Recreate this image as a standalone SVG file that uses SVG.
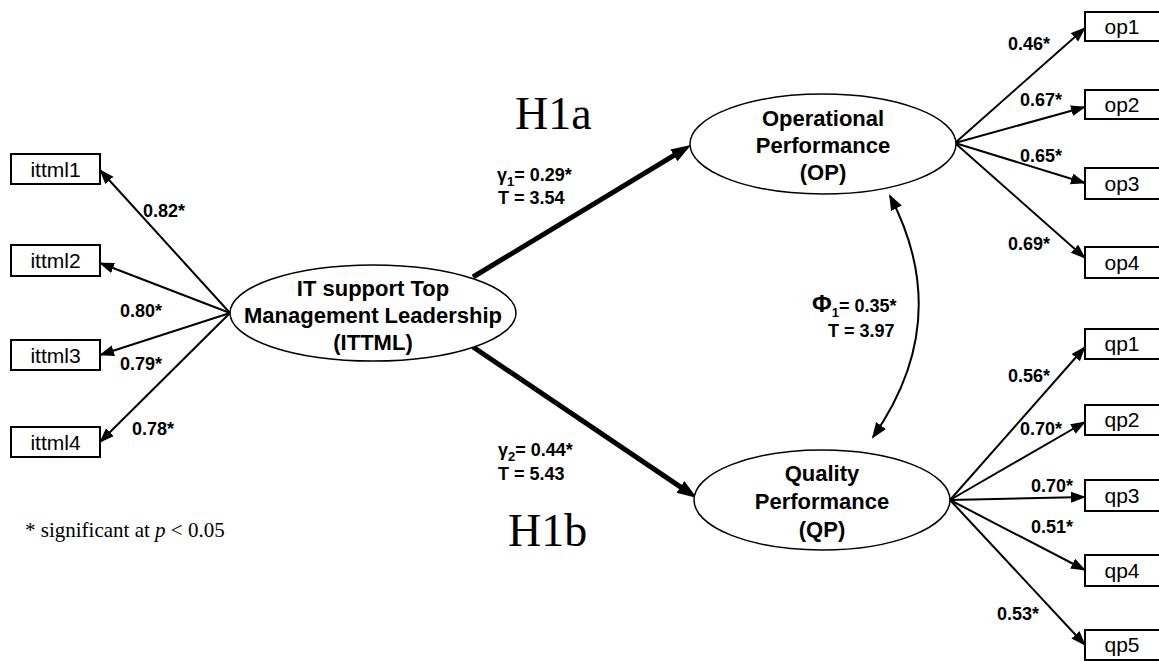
<svg xmlns="http://www.w3.org/2000/svg" width="1159" height="661" viewBox="0 0 1159 661">
<style>
.box{fill:#fff;stroke:#000;stroke-width:2}
.ell{fill:#fff;stroke:#000;stroke-width:1.5}
.bt{font-family:"Liberation Sans",Arial,sans-serif;font-size:21px;text-anchor:middle;fill:#000}
.et{font-family:"Liberation Sans",Arial,sans-serif;font-size:22px;font-weight:bold;text-anchor:middle;fill:#000}
.lb{font-family:"Liberation Sans",Arial,sans-serif;font-size:18px;font-weight:bold;fill:#000}
.hy{font-family:"Liberation Serif","Times New Roman",serif;font-size:46px;fill:#000}
.fn{font-family:"Liberation Serif","Times New Roman",serif;font-size:21px;fill:#000}
.thin{stroke:#000;stroke-width:2;fill:none;marker-end:url(#ah)}
.thick{stroke:#000;stroke-width:5;fill:none;marker-end:url(#ahb)}
</style>
<defs>
<marker id="ah" markerUnits="userSpaceOnUse" markerWidth="17" markerHeight="12" refX="14" refY="5.5" orient="auto"><path d="M0,0 L15,5.5 L0,11 z" fill="#000"/></marker>
<marker id="ahb" markerUnits="userSpaceOnUse" markerWidth="22" markerHeight="16" refX="4" refY="7" orient="auto"><path d="M0,0 L20,7 L0,14 z" fill="#000"/></marker>
<marker id="ahc" markerUnits="userSpaceOnUse" markerWidth="17" markerHeight="14" refX="14" refY="6" orient="auto-start-reverse"><path d="M0,0 L16,6 L0,12 z" fill="#000"/></marker>
</defs>
<g id="connectors">
<line class="thin" x1="230" y1="313" x2="100" y2="170"/>
<line class="thin" x1="230" y1="313" x2="100" y2="263"/>
<line class="thin" x1="230" y1="313" x2="100" y2="355"/>
<line class="thin" x1="230" y1="313" x2="100" y2="442"/>
<line class="thick" x1="473" y1="277" x2="677.3" y2="153.3"/>
<line class="thick" x1="473" y1="347" x2="683.7" y2="489.1"/>
<path d="M890,196 Q955,320 873,437" stroke="#000" stroke-width="2" fill="none" marker-start="url(#ahc)" marker-end="url(#ahc)"/>
<line class="thin" x1="955" y1="143" x2="1085" y2="28"/>
<line class="thin" x1="955" y1="143" x2="1085" y2="107"/>
<line class="thin" x1="955" y1="143" x2="1085" y2="183"/>
<line class="thin" x1="955" y1="143" x2="1085" y2="258"/>
<line class="thin" x1="950" y1="500" x2="1085" y2="347"/>
<line class="thin" x1="950" y1="500" x2="1085" y2="422"/>
<line class="thin" x1="950" y1="500" x2="1085" y2="497"/>
<line class="thin" x1="950" y1="500" x2="1085" y2="570"/>
<line class="thin" x1="950" y1="500" x2="1085" y2="645"/>
</g>
<g id="ittml1"><rect class="box" x="11" y="154" width="89" height="30"/><text class="bt" x="55.5" y="177">ittml1</text></g>
<g id="ittml2"><rect class="box" x="11" y="245" width="89" height="31"/><text class="bt" x="55.5" y="268">ittml2</text></g>
<g id="ittml3"><rect class="box" x="11" y="340" width="89" height="30"/><text class="bt" x="55.5" y="363">ittml3</text></g>
<g id="ittml4"><rect class="box" x="11" y="427" width="89" height="30"/><text class="bt" x="55.5" y="450">ittml4</text></g>
<g id="ITTML"><ellipse class="ell" cx="373" cy="313" rx="143" ry="48"/>
<text class="et" x="373" y="296">IT support Top</text>
<text class="et" x="373" y="323">Management Leadership</text>
<text class="et" x="373" y="350">(ITTML)</text></g>
<g id="OP"><ellipse class="ell" cx="823" cy="144" rx="133" ry="50"/>
<text class="et" x="823" y="126">Operational</text>
<text class="et" x="823" y="153">Performance</text>
<text class="et" x="823" y="180">(OP)</text></g>
<g id="QP"><ellipse class="ell" cx="822" cy="500" rx="128" ry="50"/>
<text class="et" x="822" y="481">Quality</text>
<text class="et" x="822" y="509">Performance</text>
<text class="et" x="822" y="537">(QP)</text></g>
<g id="op1"><rect class="box" x="1085" y="12" width="80" height="29"/><text class="bt" x="1122" y="34">op1</text></g>
<g id="op2"><rect class="box" x="1085" y="90" width="80" height="29"/><text class="bt" x="1122" y="112">op2</text></g>
<g id="op3"><rect class="box" x="1085" y="168" width="80" height="31"/><text class="bt" x="1122" y="191">op3</text></g>
<g id="op4"><rect class="box" x="1085" y="247" width="80" height="31"/><text class="bt" x="1122" y="270">op4</text></g>
<g id="qp1"><rect class="box" x="1085" y="329" width="80" height="30"/><text class="bt" x="1122" y="351">qp1</text></g>
<g id="qp2"><rect class="box" x="1085" y="405" width="80" height="30"/><text class="bt" x="1122" y="427">qp2</text></g>
<g id="qp3"><rect class="box" x="1085" y="480" width="80" height="31"/><text class="bt" x="1122" y="503">qp3</text></g>
<g id="qp4"><rect class="box" x="1085" y="555" width="80" height="31"/><text class="bt" x="1122" y="578">qp4</text></g>
<g id="qp5"><rect class="box" x="1085" y="630" width="80" height="30"/><text class="bt" x="1122" y="652">qp5</text></g>
<g id="labels">
<text class="lb" x="143" y="217">0.82*</text>
<text class="lb" x="120" y="317">0.80*</text>
<text class="lb" x="120" y="370">0.79*</text>
<text class="lb" x="132" y="435">0.78*</text>
<text class="lb" x="1008" y="50">0.46*</text>
<text class="lb" x="1020" y="106">0.67*</text>
<text class="lb" x="1020" y="162">0.65*</text>
<text class="lb" x="1008" y="250">0.69*</text>
<text class="lb" x="1008" y="382">0.56*</text>
<text class="lb" x="1020" y="435">0.70*</text>
<text class="lb" x="1031" y="492">0.70*</text>
<text class="lb" x="1031" y="533">0.51*</text>
<text class="lb" x="997" y="620">0.53*</text>
<text class="lb" x="497" y="181">γ<tspan font-size="13" dy="5">1</tspan><tspan dy="-5">= 0.29*</tspan></text>
<text class="lb" x="498" y="204">T = 3.54</text>
<text class="lb" x="498" y="456">γ<tspan font-size="13" dy="5">2</tspan><tspan dy="-5">= 0.44*</tspan></text>
<text class="lb" x="498" y="480">T = 5.43</text>
<text class="lb" x="812" y="312"><tspan font-size="24">Φ</tspan><tspan font-size="13" dy="5">1</tspan><tspan dy="-5">= 0.35*</tspan></text>
<text class="lb" x="828" y="337">T = 3.97</text>
<text class="hy" x="515" y="129">H1a</text>
<text class="hy" x="508" y="546">H1b</text>
<text class="fn" x="25" y="537">* significant at <tspan font-style="italic">p</tspan> &lt; 0.05</text>
</g>
</svg>
